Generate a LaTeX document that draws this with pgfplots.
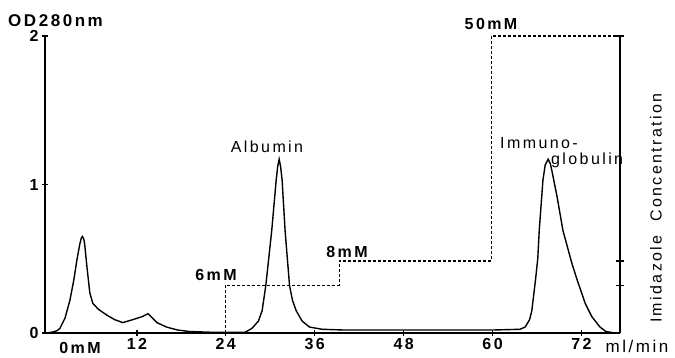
\documentclass[border=0pt]{standalone}
\usepackage{fontspec}
\setmainfont{Liberation Sans}
\newfontfamily\wide[LetterSpace=15]{Liberation Sans}
\usepackage{pgfplots}
\pgfplotsset{compat=1.18}
\begin{document}
\begin{tikzpicture}[x=1pt,y=1pt]
\useasboundingbox (0,0) rectangle (675,358);
\begin{axis}[at={(45pt,25pt)}, anchor=south west, scale only axis,
  width=575pt, height=297pt,
  xmin=-0.4, xmax=77.2, ymin=0, ymax=2,
  axis x line=bottom, axis y line=left,
  axis line style={-, line width=1.8pt},
  xtick={12,24,36,48,60,72}, ytick={0,1,2},
  tick align=center, major tick length=6pt,
  tick style={black, line width=1.3pt},
  /pgf/number format/assume math mode=true,
  ticklabel style={font=\wide\bfseries\fontsize{16}{18}\selectfont},
  xticklabel style={yshift=1pt},
  clip=false]
\addplot[black, line width=1.4pt] coordinates {
(-0.4,0) (0.5,0.005) (1.2,0.015) (1.6,0.03) (2.3,0.1) (2.96,0.22) (3.5,0.36) (3.9,0.49) (4.3,0.6) (4.5,0.64) (4.67,0.65) (4.85,0.63) (4.95,0.6) (5.25,0.45) (5.65,0.27) (6.05,0.2) (6.8,0.16) (7.95,0.12) (9,0.09) (10.1,0.07) (11.45,0.09) (12.7,0.11) (13.5,0.13) (14.1,0.1) (14.7,0.07) (16.0,0.04) (17.5,0.02) (19.1,0.01) (22,0.005) (26.6,0.005) (27.5,0.03) (28.4,0.08) (28.9,0.15) (29.4,0.32) (30.2,0.69) (30.8,1.03) (31.0,1.12) (31.2,1.17) (31.4,1.12) (31.6,1.03) (32.0,0.69) (32.6,0.32) (33.0,0.22) (33.5,0.15) (34.3,0.08) (35.3,0.04) (37,0.025) (40,0.02) (50,0.02) (60,0.02) (63.7,0.025) (64.4,0.04) (65.0,0.09) (65.3,0.15) (65.8,0.36) (66.1,0.5) (66.3,0.69) (66.8,1.03) (67.1,1.13) (67.5,1.17) (67.8,1.14) (68.1,1.07) (68.7,0.92) (69.5,0.69) (70.7,0.47) (71.4,0.36) (72.5,0.2) (73.4,0.11) (74.5,0.04) (75.3,0.01) (76.5,0.0) (77.2,0)
};
\addplot[black, line width=1.1pt, dash pattern=on 3pt off 2pt] coordinates {
(-0.4,0) (23.9,0) (23.9,0.32) (39.3,0.32) (39.3,0.485) (59.8,0.485) (59.8,2) (77.2,2)
};
\end{axis}
\begin{axis}[at={(45pt,25pt)}, anchor=south west, scale only axis,
  width=575pt, height=297pt,
  xmin=-0.4, xmax=77.2, ymin=0, ymax=2,
  axis y line*=right, axis x line=none,
  axis line style={-, line width=1.8pt},
  ytick={0.32,0.485,2}, yticklabels={},
  tick align=center, major tick length=8pt,
  tick style={black, line width=1.3pt}]
\end{axis}
\begin{scope}[every node/.style={inner sep=0pt}]
\node[anchor=base west, font=\wide\bfseries\fontsize{17}{19}\selectfont] at (8,331) {OD280nm};
\node[font=\wide\bfseries\fontsize{16}{18}\selectfont] at (80,10) {0mM};
\node[font=\wide\fontsize{17}{19}\selectfont] at (637,12) {ml/min};
\node[font=\wide\fontsize{16}{18}\selectfont] at (267,211) {Albumin};
\node[font=\wide\bfseries\fontsize{16}{18}\selectfont] at (216,83) {6mM};
\node[font=\wide\bfseries\fontsize{16}{18}\selectfont] at (347,106) {8mM};
\node[font=\wide\bfseries\fontsize{16}{18}\selectfont] at (491,334) {50mM};
\node[font=\wide\fontsize{16}{18}\selectfont, anchor=west] at (500,215) {Immuno-};
\node[font=\wide\fontsize{16}{18}\selectfont, anchor=west] at (551,198) {globulin};
\node[font=\wide\fontsize{16}{18}\selectfont, rotate=90] at (656,150) {Imidazole\ \ Concentration};
\end{scope}
\end{tikzpicture}
\end{document}
